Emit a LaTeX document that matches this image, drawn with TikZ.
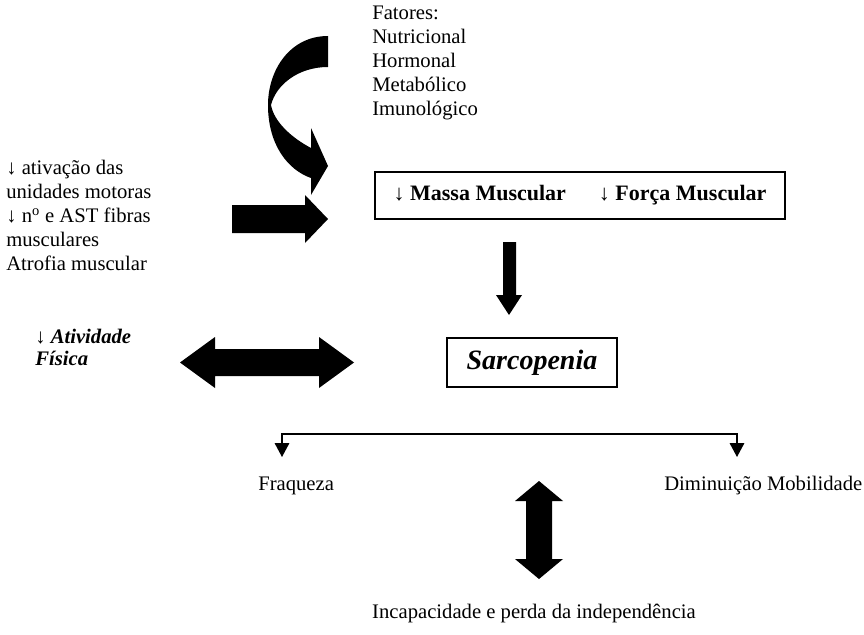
\documentclass[tikz,border=0pt]{standalone}
\usepackage{fontspec}
\setmainfont{Liberation Serif}
\usetikzlibrary{arrows.meta}

\begin{document}
\begin{tikzpicture}[x=0.75pt, y=-0.75pt,
    font=\fontsize{15.5}{18}\selectfont,
    txt/.style={inner sep=0pt, align=left, anchor=north west},
    lbl/.style={inner sep=0pt, anchor=base west},
    bigbox/.style={draw, line width=1.2pt, inner sep=0pt},
    brk/.style={line width=0.9pt, {Triangle[length=10.5pt,width=11pt]}-{Triangle[length=10.5pt,width=11pt]}}]

    \useasboundingbox (0,0) rectangle (864,635);

    % Factors and the curved block arrow
    \node[txt] (fatores) at (372,6) {Fatores:\\Nutricional\\Hormonal\\Metabólico\\Imunológico};
    \fill (328,36) .. controls (290,36) and (268,70) .. (268,105)
        .. controls (268,145) and (288,170) .. (311,178)
        -- (311,195) -- (328,166) -- (311,128) -- (311,148)
        .. controls (292,138) and (274,122) .. (271,105)
        .. controls (276,85) and (298,67) .. (328,67) -- cycle;

    % Muscle box
    \node[bigbox, minimum width=307.5pt, minimum height=35pt] (massa) at (580,195.5)
        {\fontsize{16.5}{18}\selectfont\bfseries ↓ Massa Muscular\hspace{1.5em}↓ Força Muscular};

    % Motor units text and its block arrow
    \node[txt] (motor) at (6,160) {↓ ativação das\\unidades motoras\\↓ n\textsuperscript{o} e AST fibras\\musculares\\Atrofia muscular};
    \fill (232,205) -- (305,205) -- (305,195) -- (328,219) -- (305,243) -- (305,233) -- (232,233) -- cycle;

    % Down arrow to sarcopenia
    \fill (503,242) -- (516,242) -- (516,295) -- (522,295) -- (509,315) -- (496,295) -- (503,295) -- cycle;

    % Sarcopenia
    \node[draw, line width=0.8pt, minimum width=127.5pt, minimum height=36.75pt] (sarco) at (532,362.5)
        {\fontsize{21}{24}\selectfont\bfseries\itshape Sarcopenia};

    % Physical activity and the double block arrow
    \node[txt, font=\fontsize{15.5}{16.5}\selectfont] (ativ) at (35,329) {↓ \textbf{\textit{Atividade}}\\\textbf{\textit{Física}}};
    \fill (180,362.5) -- (215,337) -- (215,349) -- (319,349) -- (319,337) -- (354,362.5)
        -- (319,388) -- (319,376) -- (215,376) -- (215,388) -- cycle;

    % Consequences
    \coordinate (brL) at (282,457);
    \coordinate (brM) at (510,434);
    \coordinate (brR) at (737,457);
    \draw[brk] (brL) |- (brM) -| (brR);
    \node[lbl] (fraq) at (258,490) {Fraqueza};
    \node[lbl] (mobil) at (664,490) {Diminuição Mobilidade};

    % Vertical double block arrow
    \fill (539,481) -- (563,501) -- (552,501) -- (552,559) -- (563,559) -- (539,579)
        -- (515,559) -- (526,559) -- (526,501) -- (515,501) -- cycle;
    \node[inner sep=0pt, anchor=base] (incap) at (534,618) {Incapacidade e perda da independência};

\end{tikzpicture}
\end{document}
